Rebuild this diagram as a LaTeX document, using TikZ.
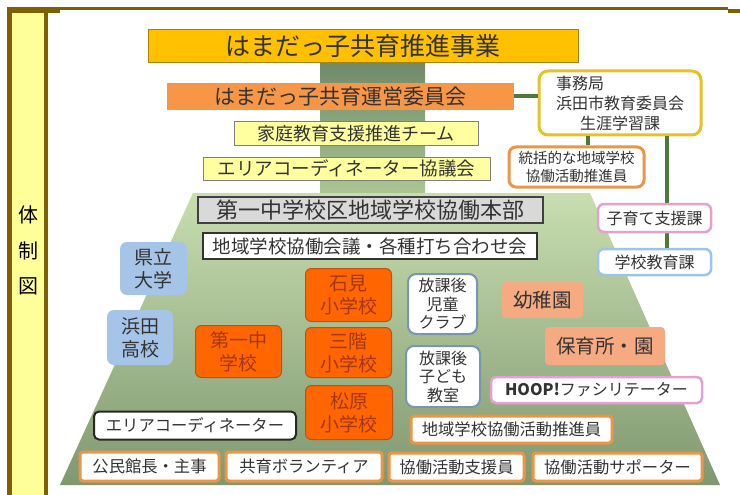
\documentclass[tikz,border=0pt]{standalone}
\usepackage{fontspec}
\setmainfont{Noto Sans CJK JP}
\definecolor{framec}{RGB}{127,96,0}
\definecolor{yell}{RGB}{255,255,153}
\definecolor{txt}{RGB}{51,51,51}
\definecolor{gold}{RGB}{255,192,0}
\definecolor{goldedge}{RGB}{170,130,0}
\definecolor{orng}{RGB}{247,150,70}
\definecolor{lyell}{RGB}{255,255,160}
\definecolor{lgray}{RGB}{217,217,217}
\definecolor{conn}{RGB}{79,120,60}
\definecolor{jimuedge}{RGB}{230,194,41}
\definecolor{orgedge}{RGB}{235,150,70}
\definecolor{pinkedge}{RGB}{228,160,208}
\definecolor{blueedge}{RGB}{157,195,230}
\definecolor{bluefill}{RGB}{166,196,232}
\definecolor{schoolfill}{RGB}{255,102,0}
\definecolor{schooledge}{RGB}{190,80,20}
\definecolor{schooltxt}{RGB}{165,55,20}
\definecolor{grayblue}{RGB}{120,150,180}
\definecolor{salmon}{RGB}{245,170,130}
\definecolor{bandtop}{RGB}{112,138,106}
\definecolor{bandbot}{RGB}{172,198,148}
\definecolor{traptop}{RGB}{200,222,176}
\definecolor{trapbot}{RGB}{128,152,112}
\tikzset{
  basebox/.style={inner sep=0pt, align=center, text=txt},
  fsz/.style={font=\fontsize{#1}{#1}\selectfont},
  yellbox/.style={basebox, fill=lyell, draw=gray, line width=1pt},
  schoolbox/.style={basebox, fill=schoolfill, draw=schooledge, line width=1pt, rounded corners=6pt, text=schooltxt, font=\fontsize{19}{23}\selectfont},
  bluebox/.style={basebox, fill=bluefill, rounded corners=7pt, font=\fontsize{19}{23}\selectfont},
  afterbox/.style={basebox, fill=white, draw=grayblue, line width=2pt, rounded corners=8pt, font=\fontsize{16}{18.5}\selectfont},
  salmonbox/.style={basebox, fill=salmon, rounded corners=4pt, font=\fontsize{19.5}{22}\selectfont},
  orgbox/.style={basebox, fill=white, draw=orgedge, line width=3pt, rounded corners=3pt, font=\fontsize{16.3}{19}\selectfont},
  connline/.style={draw=conn, line width=4pt},
}
\begin{document}
\begin{tikzpicture}[x=1pt,y=-1pt]
\useasboundingbox (0,0) rectangle (740,495);
\fill[white] (0,0) rectangle (740,495);
% frame
\fill[framec] (7,7.3) rectangle (728,10);
\fill[framec] (728,9) rectangle (740,13);
\fill[framec] (7,10) rectangle (60,13.3);
\fill[framec] (7,13) rectangle (11.7,495);
\fill[framec] (44.3,13) rectangle (48.3,495);
\fill[yell] (11.7,13.3) rectangle (44.3,495);
\node[text=black, font=\fontsize{20}{20}\selectfont] (tai) at (28,215) {体};
\node[text=black, font=\fontsize{20}{20}\selectfont] (sei) at (28,251) {制};
\node[text=black, font=\fontsize{20}{20}\selectfont] (zu) at (28,286) {図};
% backgrounds
\shade[top color=bandtop, bottom color=bandbot] (320,63) rectangle (425,196);
\shade[top color=traptop, bottom color=trapbot] (193,193) -- (590,193) -- (720,485) -- (60,485) -- cycle;
% top stack
\node[basebox, fill=gold, draw=goldedge, line width=1pt, minimum width=430pt, minimum height=33pt, fsz=25] (jigyo) at (363,46.5) {はまだっ子共育推進事業};
\node[basebox, fill=orng, minimum width=347pt, minimum height=27pt, fsz=21] (unei) at (340.5,96.5) {はまだっ子共育運営委員会};
\node[yellbox, minimum width=244pt, minimum height=24pt, fsz=18] (katei) at (356,134) {家庭教育支援推進チーム};
\node[yellbox, minimum width=287pt, minimum height=23pt, fsz=18.5] (kyogi) at (346.5,168.5) {エリアコーディネーター協議会};
\node[basebox, fill=lgray, draw=black!75, line width=1.5pt, minimum width=345pt, minimum height=26pt, fsz=22] (honbu) at (370.5,210) {第一中学校区地域学校協働本部};
\node[basebox, fill=white, draw=black!80, line width=2.5pt, minimum width=334pt, minimum height=26pt, fsz=18.5] (kaigi) at (370,246) {地域学校協働会議・各種打ち合わせ会};
% right side
\node[basebox, fill=white, draw=jimuedge, line width=3pt, rounded corners=9pt, minimum width=162pt, minimum height=64pt, font=\fontsize{16}{20}\selectfont] (jimu) at (620,103) {\makebox[8em][l]{事務局}\\浜田市教育委員会\\生涯学習課};
\node[basebox, fill=white, draw=orgedge, line width=3pt, rounded corners=7pt, minimum width=135pt, minimum height=40pt, font=\fontsize{14.5}{18}\selectfont] (tokatsu) at (576.5,167) {統括的な地域学校\\協働活動推進員};
\node[basebox, fill=white, draw=blueedge, line width=2.5pt, rounded corners=6pt, minimum width=113pt, minimum height=26pt, fsz=16] (gakko) at (654.5,262) {学校教育課};
% connectors
\draw[connline] (unei.east) -- (unei.east -| jimu.west);
\draw[connline] (jimu.south -| 588,0) -- (tokatsu.north -| 588,0);
\draw[connline] (jimu.south -| 667,0) -- (gakko.north -| 667,0);
\node[basebox, fill=white, draw=pinkedge, line width=2.5pt, rounded corners=6pt, minimum width=113pt, minimum height=28pt, fsz=16] (kosodate) at (654.5,218) {子育て支援課};
% left side
\node[bluebox, minimum width=67pt, minimum height=53pt] (kenritsu) at (153.5,268.5) {県立\\大学};
\node[bluebox, minimum width=66pt, minimum height=55pt] (koko) at (140,337.5) {浜田\\高校};
% schools
\node[schoolbox, minimum width=86pt, minimum height=52pt] (daiichi) at (238.5,351.5) {第一中\\学校};
\node[schoolbox, minimum width=86pt, minimum height=53pt] (iwami) at (348.5,295) {石見\\小学校};
\node[schoolbox, minimum width=86pt, minimum height=50pt] (sankai) at (348.5,352.5) {三階\\小学校};
\node[schoolbox, minimum width=87pt, minimum height=54pt] (matsubara) at (349,412.5) {松原\\小学校};
% after-school
\node[afterbox, minimum width=69pt, minimum height=60pt] (club) at (442.5,304) {放課後\\児童\\クラブ};
\node[afterbox, minimum width=74pt, minimum height=61pt] (kyoshitsu) at (443,376.5) {放課後\\子ども\\教室};
% kindergarten
\node[salmonbox, minimum width=81pt, minimum height=36pt] (yochien) at (542.5,300) {幼稚園};
\node[salmonbox, minimum width=120pt, minimum height=38pt] (hoiku) at (605,346) {保育所・園};
% lower boxes
\node[basebox, fill=white, draw=pinkedge, line width=2.5pt, rounded corners=5pt, minimum width=211pt, minimum height=26pt, fsz=16] (hoop) at (596.5,390) {{\bfseries HOOP!}ファシリテーター};
\node[orgbox, minimum width=201pt, minimum height=27pt] (suishin) at (511.5,429.5) {地域学校協働活動推進員};
\node[basebox, fill=white, draw=black!85, line width=2pt, rounded corners=5pt, minimum width=202pt, minimum height=28pt, fsz=16.3] (areacoord) at (195,425.5) {エリアコーディネーター};
\node[orgbox, minimum width=139pt, minimum height=29pt] (kominkan) at (149.5,466.5) {公民館長・主事};
\node[orgbox, minimum width=156pt, minimum height=29pt] (volunteer) at (304,466.5) {共育ボランティア};
\node[orgbox, minimum width=135pt, minimum height=28pt] (shienin) at (456.5,467) {協働活動支援員};
\node[orgbox, minimum width=169pt, minimum height=28pt] (supporter) at (617.5,467) {協働活動サポーター};
\end{tikzpicture}
\end{document}
